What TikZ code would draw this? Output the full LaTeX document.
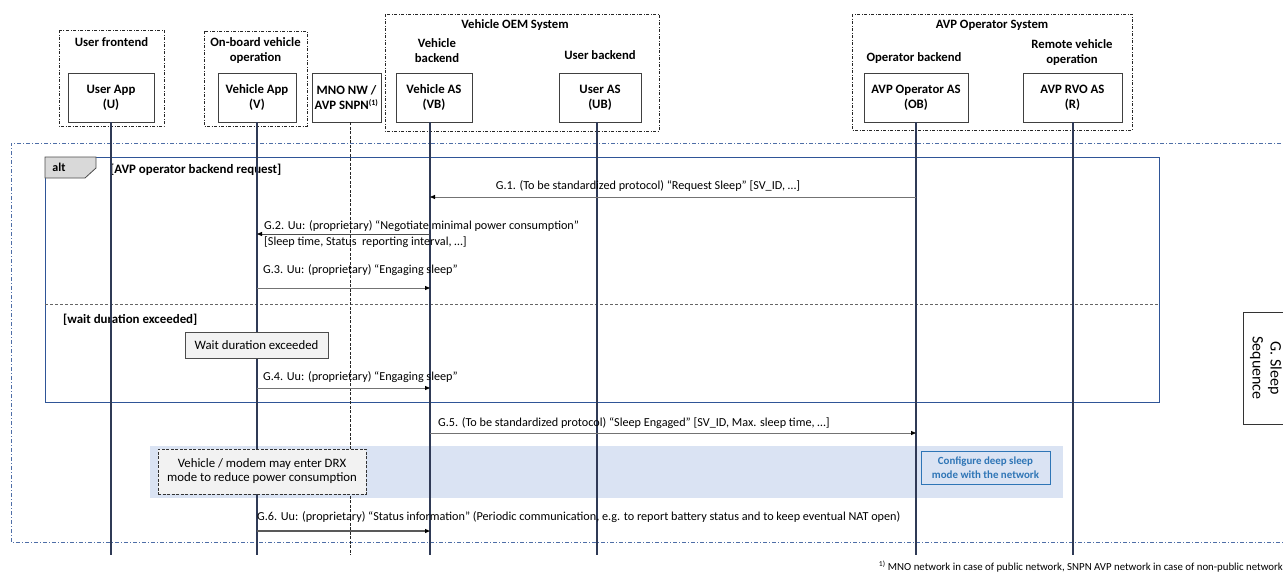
\documentclass[tikz,border=0pt]{standalone}
\usepackage{fontspec}
\setmainfont{Carlito}
\usetikzlibrary{arrows.meta}

\definecolor{lifecol}{HTML}{2F3A56}
\definecolor{frameblue}{HTML}{2F5597}
\definecolor{bandblue}{HTML}{DAE3F3}
\definecolor{cfgblue}{HTML}{2E75B6}
\definecolor{tagfill}{HTML}{D9D9D9}
\definecolor{notefill}{HTML}{F2F2F2}

\begin{document}
\begin{tikzpicture}[x=1pt,y=-1pt,
  entity/.style={draw=black!75, line width=0.8pt, fill=white, minimum height=49pt,
    align=center, inner sep=1pt, font=\bfseries\fontsize{12.8}{15}\selectfont},
  grouplbl/.style={align=center, font=\bfseries\fontsize{12.7}{15}\selectfont},
  groupbox/.style={draw=black!85, line width=0.7pt, dash pattern=on 3pt off 1.5pt on 1pt off 1.5pt},
  lifeline/.style={draw=lifecol, line width=1.3pt},
  netline/.style={draw=black!85, line width=0.8pt, dash pattern=on 3pt off 1.5pt},
  msg/.style={draw=black!55, line width=0.8pt, -{Triangle[length=5pt,width=4pt,color=black]}},
  msgtxt/.style={font=\fontsize{12.2}{15}\selectfont, inner sep=0pt, align=left},
  guard/.style={font=\bfseries\fontsize{12.9}{15}\selectfont, inner sep=0pt, anchor=west},
  notebox/.style={draw=black!70, fill=notefill, line width=0.7pt, font=\fontsize{12.8}{14}\selectfont, align=center}
]
\useasboundingbox (0,0) rectangle (1283,574);

% group frames
\draw[groupbox] (59,30) rectangle (164,126);
\node[grouplbl] (lblU) at (111.5,42) {User frontend};
\draw[groupbox] (204,31) rectangle (307,126);
\node[grouplbl] (lblV) at (255.5,50.5) {On-board vehicle\\operation};
\draw[groupbox] (385,14) rectangle (659,131);
\node[grouplbl] (lblOEM) at (515,25) {Vehicle OEM System};
\node[grouplbl] (lblVB) at (437,50.5) {Vehicle\\backend};
\node[grouplbl] (lblUB) at (600,55) {User backend};
\draw[groupbox] (852,14) rectangle (1132,130);
\node[grouplbl] (lblAVP) at (992,25) {AVP Operator System};
\node[grouplbl] (lblOB) at (914,58) {Operator backend};
\node[grouplbl] (lblR) at (1072,52.5) {Remote vehicle\\operation};

% outer sequence frame
\draw[draw=frameblue!85, line width=0.7pt, dash pattern=on 4pt off 2pt on 1pt off 2pt]
  (1290,143) -- (11,143) -- (11,542) -- (1290,542);

% alt fragment
\draw[draw=frameblue, line width=0.8pt] (45,157) rectangle (1159,402);
\draw[draw=black!60, line width=0.7pt, dash pattern=on 3pt off 2pt] (45,304) -- (1159,304);
\filldraw[draw=black!70, fill=tagfill, line width=0.8pt]
  (45,157) -- (96,157) -- (96,168) -- (85,178) -- (45,178) -- cycle;
\node[font=\bfseries\fontsize{12}{14}\selectfont] (alt) at (59,167) {alt};
\node[guard] (g1cond) at (110,169.5) {[AVP operator backend request]};
\node[guard] (g2cond) at (63,319.5) {[wait duration exceeded]};

% band for the sleep phase
\fill[bandblue] (150,446) rectangle (1063,498);

% participants
\node[entity, minimum width=86pt] (U) at (111,97.5) {User App\\(U)};
\node[entity, minimum width=78pt] (V) at (257,97.5) {Vehicle App\\(V)};
\node[entity, minimum width=69pt] (N) at (346.5,97.5) {MNO NW /\\AVP SNPN\textsuperscript{\fontsize{8}{9}\selectfont(1)}};
\node[entity, minimum width=76pt] (VB) at (434,97.5) {Vehicle AS\\(VB)};
\node[entity, minimum width=82pt] (UB) at (600,97.5) {User AS\\(UB)};
\node[entity, minimum width=104pt] (OB) at (916,97.5) {AVP Operator AS\\(OB)};
\node[entity, minimum width=99pt] (R) at (1072.5,97.5) {AVP RVO AS\\(R)};

% lifelines
\coordinate (xN) at (350,0);
\coordinate (xVB) at (430,0);
\coordinate (xUB) at (597,0);
\coordinate (xR) at (1073,0);
\coordinate (endU) at (111,555);
\coordinate (endV) at (257,555);
\coordinate (endN) at (350,555);
\coordinate (endVB) at (430,555);
\coordinate (endUB) at (597,555);
\coordinate (endOB) at (916,555);
\coordinate (endR) at (1073,555);
\draw[lifeline] (U.south) -- (endU);
\draw[lifeline] (V.south) -- (endV);
\draw[netline] (N.south -| xN) -- (endN);
\draw[lifeline] (VB.south -| xVB) -- (endVB);
\draw[lifeline] (UB.south -| xUB) -- (endUB);
\draw[lifeline] (OB.south) -- (endOB);
\draw[lifeline] (R.south -| xR) -- (endR);

% messages
\coordinate (m1a) at (916,197); \coordinate (m1b) at (430,197);
\draw[msg] (m1a) -- (m1b);
\node[msgtxt] (t1) at (648,186) {G.1. (To be standardized protocol) “Request Sleep” [SV\_ID, …]};

\coordinate (m2a) at (430,234); \coordinate (m2b) at (257,234);
\draw[msg, draw=black!70] (m2a) -- (m2b);
\node[msgtxt, anchor=south west] (t2) at (264,232) {G.2. Uu: (proprietary) “Negotiate minimal power consumption”};
\node[msgtxt, anchor=north west] (t2b) at (264,236) {[Sleep time, Status~ reporting interval, …]};

\coordinate (m3a) at (257,288); \coordinate (m3b) at (430,288);
\draw[msg] (m3a) -- (m3b);
\node[msgtxt, anchor=west] (t3) at (263,270) {G.3. Uu: (proprietary) “Engaging sleep”};

\node[notebox, minimum width=143pt, minimum height=26pt] (wait) at (256.5,345) {Wait duration exceeded};

\coordinate (m4a) at (257,388); \coordinate (m4b) at (430,388);
\draw[msg] (m4a) -- (m4b);
\node[msgtxt, anchor=west] (t4) at (263,377) {G.4. Uu: (proprietary) “Engaging sleep”};

\coordinate (m5a) at (430,433); \coordinate (m5b) at (916,433);
\draw[msg] (m5a) -- (m5b);
\node[msgtxt, anchor=west] (t5) at (438,423) {G.5. (To be standardized protocol) “Sleep Engaged” [SV\_ID, Max. sleep time, …]};

\node[notebox, dash pattern=on 3pt off 1.5pt, draw=black!80, minimum width=208pt, minimum height=45pt, inner sep=2pt] (drx) at (262,471.5)
  {Vehicle / modem may enter DRX\\mode to reduce power consumption};
\node[draw=cfgblue, line width=0.9pt, fill=bandblue, text=cfgblue, align=center,
  font=\bfseries\fontsize{10.9}{14}\selectfont, minimum width=129pt, minimum height=33pt, inner sep=1pt] (cfg) at (985.5,467.5)
  {Configure deep sleep\\mode with the network};

\coordinate (m6a) at (257,531); \coordinate (m6b) at (430,531);
\draw[msg, draw=black!65, line width=1.1pt] (m6a) -- (m6b);
\node[msgtxt, anchor=west] (t6) at (257,517) {G.6. Uu: (proprietary) “Status information” (Periodic communication, e.g. to report battery status and to keep eventual NAT open)};

% section label
\node[draw=black!80, line width=0.7pt, rotate=-90, align=center, font=\fontsize{16}{18}\selectfont,
  minimum width=112pt, minimum height=46pt, inner sep=1pt] (sect) at (1266,368) {G. Sleep\\Sequence};

% footnote
\node[anchor=east, inner sep=0pt, font=\fontsize{10.8}{12}\selectfont] (fn) at (1283,567)
  {\textsuperscript{1)} MNO network in case of public network, SNPN AVP network in case of non-public network};
\end{tikzpicture}
\end{document}
